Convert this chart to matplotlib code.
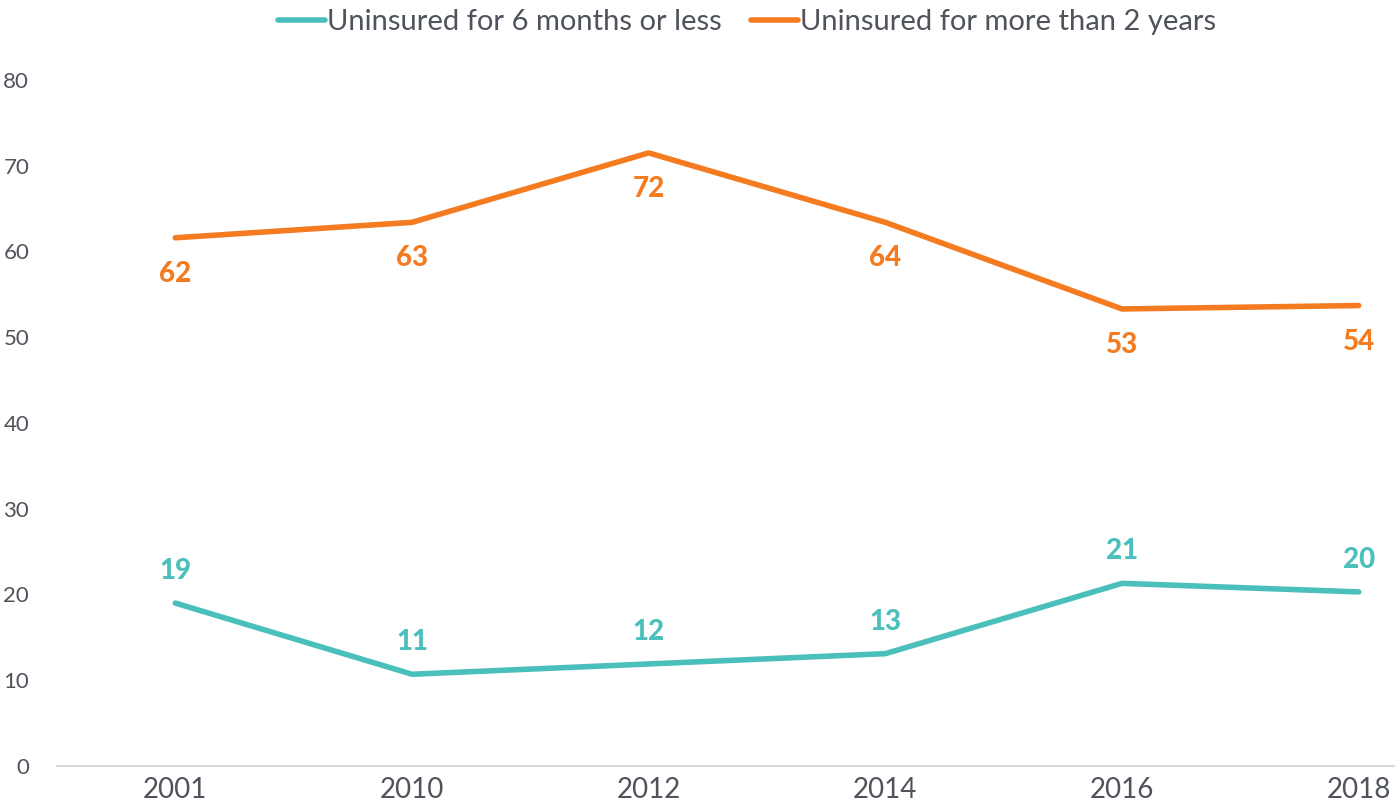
import matplotlib
matplotlib.use("Agg")
import matplotlib.pyplot as plt

years = ["2001", "2010", "2012", "2014", "2016", "2018"]
short_term = [19.0, 10.7, 11.9, 13.1, 21.3, 20.3]
long_term = [61.6, 63.4, 71.5, 63.4, 53.3, 53.7]
short_labels = ["19", "11", "12", "13", "21", "20"]
long_labels = ["62", "63", "72", "64", "53", "54"]
series_names = ["Uninsured for 6 months or less", "Uninsured for more than 2 years"]
yticks = [0, 10, 20, 30, 40, 50, 60, 70, 80]

TEAL = "#4bbfbc"
ORANGE = "#f47b20"
TEXT = "#4f535b"

plt.rcParams["font.family"] = ["Lato", "DejaVu Sans"]

fig = plt.figure(figsize=(13.95, 8.06), dpi=100)
ax = fig.add_axes([57 / 1395, 40 / 806, (1477 - 57) / 1395, (766 - 80) / 806])

x = list(range(len(years)))
ax.plot(x, short_term, color=TEAL, lw=4, solid_capstyle="round", label=series_names[0])
ax.plot(x, long_term, color=ORANGE, lw=4, solid_capstyle="round", label=series_names[1])

for xi, v, t in zip(x, short_term, short_labels):
    ax.annotate(t, (xi, v), xytext=(0, 23), textcoords="offset points",
                ha="center", va="center", color=TEAL, fontsize=20, fontweight="black")
for xi, v, t in zip(x, long_term, long_labels):
    ax.annotate(t, (xi, v), xytext=(0, -26), textcoords="offset points",
                ha="center", va="center", color=ORANGE, fontsize=20, fontweight="black")

ax.set_xlim(-0.5, len(years) - 0.5)
ax.set_ylim(0, 80)
ax.set_yticks(yticks)
ax.set_xticks(x)
ax.set_xticklabels(years)
ax.tick_params(axis="y", length=0, pad=20, labelsize=16, labelcolor=TEXT)
ax.tick_params(axis="x", length=0, pad=8, labelsize=20, labelcolor=TEXT)
for s in ["top", "right", "left"]:
    ax.spines[s].set_visible(False)
ax.spines["bottom"].set_color("#d9d9d9")
ax.spines["bottom"].set_linewidth(1.5)

leg = fig.legend(loc="center", bbox_to_anchor=(747 / 1395, 1 - 22 / 806), ncol=2, frameon=False,
                 fontsize=21, handlelength=1.6, handletextpad=0.08, columnspacing=1.0,
                 labelcolor=TEXT)

fig.savefig("out.png", dpi=100)
